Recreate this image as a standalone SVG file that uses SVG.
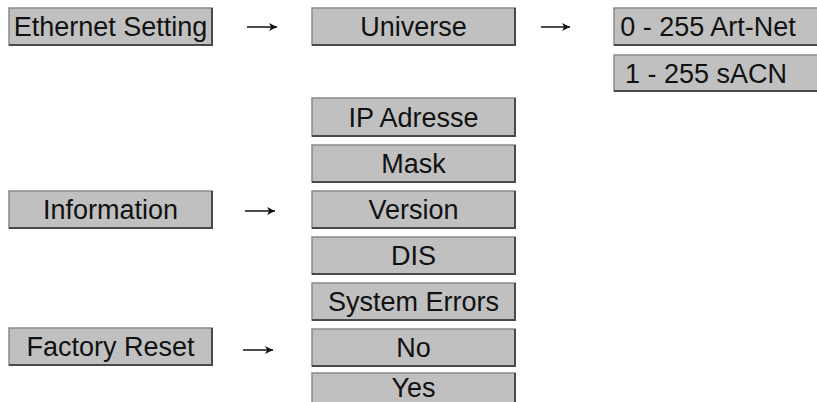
<svg xmlns="http://www.w3.org/2000/svg" width="817" height="402" viewBox="0 0 817 402">
<style>
.box rect{fill:#c0c0c0;stroke:#8a8a8a;stroke-width:1.5}
.box path{fill:none;stroke:#4a4a4a;stroke-width:2}
.box text{font-family:"Liberation Sans",Arial,sans-serif;font-size:27px;fill:#111;text-anchor:middle}
.conn line{stroke:#111;stroke-width:1.5}
</style>
<defs>
<marker id="ah" markerWidth="9" markerHeight="9" refX="8" refY="4.5" orient="auto" markerUnits="userSpaceOnUse">
<path d="M0,0.5 L8,4.5 L0,8.5 L2.2,4.5 Z" fill="#111"/>
</marker>
</defs>
<rect width="817" height="402" fill="#fff"/>
<g id="conns" class="conn">
<line x1="247" y1="27" x2="277" y2="27" marker-end="url(#ah)"/>
<line x1="541" y1="27" x2="570" y2="27" marker-end="url(#ah)"/>
<line x1="245" y1="211" x2="275" y2="211" marker-end="url(#ah)"/>
<line x1="243" y1="350" x2="273" y2="350" marker-end="url(#ah)"/>
</g>
<g id="ethernet" class="box"><rect x="9" y="8" width="203" height="37"/><path d="M9,45 H212 V8"/><text x="110.5" y="36">Ethernet Setting</text></g>
<g id="universe" class="box"><rect x="312" y="8" width="203" height="37"/><path d="M312,45 H515 V8"/><text x="413.5" y="36">Universe</text></g>
<g id="artnet" class="box"><rect x="614" y="8" width="205" height="37"/><path d="M614,45 H819"/><text x="708" y="36">0 - 255 Art-Net</text></g>
<g id="sacn" class="box"><rect x="614" y="55" width="205" height="36"/><path d="M614,91 H819"/><text x="706" y="83">1 - 255 sACN</text></g>
<g id="ip" class="box"><rect x="312" y="98" width="203" height="38"/><path d="M312,136 H515 V98"/><text x="413.5" y="127">IP Adresse</text></g>
<g id="mask" class="box"><rect x="312" y="145" width="203" height="37"/><path d="M312,182 H515 V145"/><text x="413.5" y="173">Mask</text></g>
<g id="version" class="box"><rect x="312" y="191" width="203" height="37"/><path d="M312,228 H515 V191"/><text x="413.5" y="219">Version</text></g>
<g id="dis" class="box"><rect x="312" y="237" width="203" height="37"/><path d="M312,274 H515 V237"/><text x="413.5" y="265">DIS</text></g>
<g id="syserr" class="box"><rect x="312" y="283" width="203" height="37"/><path d="M312,320 H515 V283"/><text x="413.5" y="311">System Errors</text></g>
<g id="no" class="box"><rect x="312" y="329" width="203" height="37"/><path d="M312,366 H515 V329"/><text x="413.5" y="357">No</text></g>
<g id="yes" class="box"><rect x="312" y="373" width="203" height="40"/><path d="M515,373 V402"/><text x="413.5" y="397">Yes</text></g>
<g id="information" class="box"><rect x="9" y="191" width="203" height="37"/><path d="M9,228 H212 V191"/><text x="110.5" y="219">Information</text></g>
<g id="factory" class="box"><rect x="9" y="328" width="203" height="37"/><path d="M9,365 H212 V328"/><text x="110.5" y="356">Factory Reset</text></g>
</svg>
